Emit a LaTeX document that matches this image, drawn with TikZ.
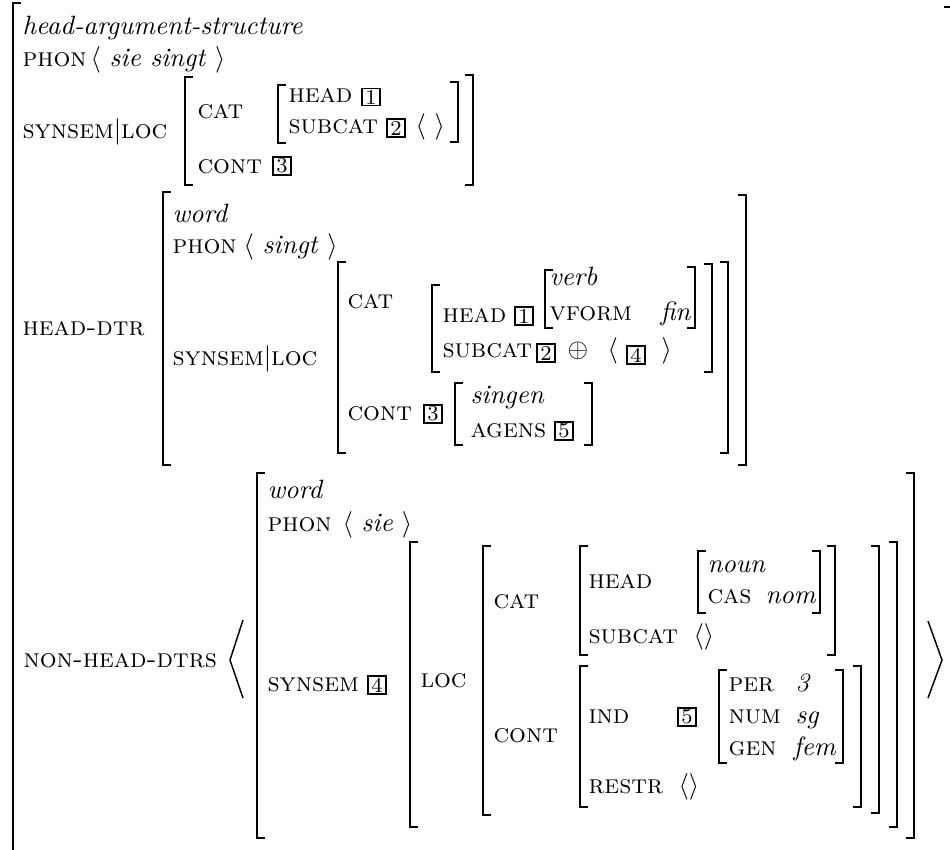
\documentclass[tikz,border=0pt]{standalone}
\begin{document}
\begin{tikzpicture}[x=0.3774pt,y=-0.3774pt,
  lbl/.style={anchor=base west,inner sep=0pt,font=\fontsize{10}{12}\selectfont},
  brk/.style={line width=0.75pt,line cap=butt,line join=miter},
  tagbx/.style={draw,line width=0.65pt,inner sep=0pt,minimum width=6.8pt,minimum height=6.6pt,font=\fontsize{8}{8}\selectfont},
  angl/.style={line width=0.55pt}]
\newcommand\lbrak[3]{\draw[brk] (#1+8,#2) -- (#1,#2) -- (#1,#3) -- (#1+8,#3);}
\newcommand\rbrak[3]{\draw[brk] (#1-8,#2) -- (#1,#2) -- (#1,#3) -- (#1-8,#3);}
\useasboundingbox (0,0) rectangle (950,850);
\clip (0,0) rectangle (950,850);

% outermost matrix
\lbrak{13}{3}{880}
\rbrak{952}{7}{880}

% ---- mother: head-argument-structure ----
\node[lbl] (hastype) at (22,34) {\textit{head-argument-structure}};
\node[lbl] (mphon) at (22,66) {\textsc{phon}};
\node[lbl] (mphonv) at (90,66) {$\langle$ \textit{sie singt} $\rangle$};
\node[lbl] (msl) at (22,138) {\textsc{synsem}$|$\textsc{loc}};
\lbrak{185}{77}{185}
\rbrak{473}{75}{185}
\node[lbl] (mcat) at (197,118) {\textsc{cat}};
\lbrak{278}{85}{143}
\rbrak{458}{82}{142}
\node[lbl] (mhead) at (288,102) {\textsc{head}};
\node[tagbx,line width=0.5pt] (mt1) at (371,97) {1};
\node[lbl] (msub) at (288,133) {\textsc{subcat}};
\node[tagbx] (mt2) at (396,128) {2};
\node[lbl] (msubv) at (415,133) {$\langle$ $\rangle$};
\node[lbl] (mcont) at (197,173) {\textsc{cont}};
\node[tagbx] (mt3) at (282,166) {3};

% ---- head daughter ----
\node[lbl] (hdlab) at (22,335) {\textsc{head-dtr}};
\lbrak{163}{192}{465}
\rbrak{746}{195}{465}
\node[lbl] (hdtype) at (172,222) {\textit{word}};
\node[lbl] (hdphon) at (172,253) {\textsc{phon}};
\node[lbl] (hdphonv) at (243,253) {$\langle$ \textit{singt} $\rangle$};
\node[lbl] (hdsl) at (172,365) {\textsc{synsem}$|$\textsc{loc}};
\lbrak{338}{262}{453}
\rbrak{728}{262}{453}
\node[lbl] (hdcat) at (347,308) {\textsc{cat}};
\lbrak{432}{285}{372}
\rbrak{712}{264}{372}
\node[lbl] (hdhead) at (442,322) {\textsc{head}};
\node[tagbx] (hdt1) at (524,316) {1};
\lbrak{545}{270}{328}
\rbrak{695}{267}{328}
\node[lbl] (hdverb) at (549,285) {\textit{verb}};
\node[lbl] (hdvf) at (549,320) {\textsc{vform}};
\node[lbl] (hdfin) at (660,320) {\textit{fin}};
\node[lbl] (hdsub) at (442,357) {\textsc{subcat}};
\node[tagbx] (hdt2) at (546,353) {2};
\node[lbl] (hdplus) at (567,357) {$\oplus$};
\node[lbl] (hdla) at (607,357) {$\langle$};
\node[tagbx] (hdt4) at (636,355) {4};
\node[lbl] (hdra) at (661,357) {$\rangle$};
\node[lbl] (hdcont) at (347,420) {\textsc{cont}};
\node[tagbx] (hdt3) at (433,414) {3};
\lbrak{455}{383}{445}
\rbrak{592}{383}{445}
\node[lbl] (hdsing) at (470,403) {\textit{singen}};
\node[lbl] (hdag) at (470,437) {\textsc{agens}};
\node[tagbx] (hdt5) at (564,431) {5};

% ---- non-head daughters ----
\node[lbl] (nhlab) at (23,667) {\textsc{non-head-dtrs}};
\draw[angl] (243,620) -- (230,660) -- (243,698);
\draw[angl] (928,621) -- (942,660) -- (928,698);
\lbrak{257}{473}{838}
\rbrak{914}{473}{838}
\node[lbl] (nhtype) at (267,498) {\textit{word}};
\node[lbl] (nhphon) at (267,531) {\textsc{phon}};
\node[lbl] (nhphonv) at (342,531) {$\langle$ \textit{sie} $\rangle$};
\node[lbl] (nhss) at (267,691) {\textsc{synsem}};
\node[tagbx] (nht4) at (377,685) {4};
\lbrak{410}{542}{827}
\rbrak{897}{542}{827}
\node[lbl] (nhloc) at (420,687) {\textsc{loc}};
\lbrak{483}{546}{815}
\rbrak{879}{546}{813}
\node[lbl] (nhcat) at (493,608) {\textsc{cat}};
\lbrak{580}{546}{655}
\rbrak{835}{546}{655}
\node[lbl] (nhhead) at (588,588) {\textsc{head}};
\lbrak{698}{551}{613}
\rbrak{820}{551}{613}
\node[lbl] (nhnoun) at (707,572) {\textit{noun}};
\node[lbl] (nhcas) at (707,603) {\textsc{cas}};
\node[lbl] (nhnom) at (765,603) {\textit{nom}};
\node[lbl] (nhsub) at (588,643) {\textsc{subcat}};
\node[lbl] (nhsubv) at (693,643) {$\langle\rangle$};
\node[lbl] (nhcont) at (493,742) {\textsc{cont}};
\lbrak{580}{666}{807}
\rbrak{861}{666}{807}
\node[lbl] (nhind) at (588,723) {\textsc{ind}};
\node[tagbx] (nht5) at (687,717) {5};
\lbrak{719}{670}{763}
\rbrak{843}{670}{763}
\node[lbl] (nhper) at (728,691) {\textsc{per}};
\node[lbl] (nhperv) at (795,691) {\textit{3}};
\node[lbl] (nhnum) at (728,723) {\textsc{num}};
\node[lbl] (nhnumv) at (795,723) {\textit{sg}};
\node[lbl] (nhgen) at (728,755) {\textsc{gen}};
\node[lbl] (nhgenv) at (793,755) {\textit{fem}};
\node[lbl] (nhres) at (588,793) {\textsc{restr}};
\node[lbl] (nhresv) at (678,793) {$\langle\rangle$};
\end{tikzpicture}
\end{document}
